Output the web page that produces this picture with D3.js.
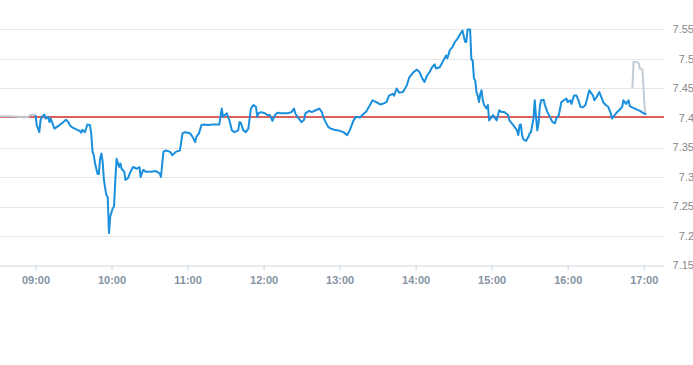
<!DOCTYPE html>
<html>
<head>
<meta charset="utf-8">
<script src="https://cdn.jsdelivr.net/npm/d3@7"></script>
<style>
  html, body { margin: 0; padding: 0; background: #fff; }
  svg { display: block; font-family: "Liberation Sans", Arial, sans-serif; }
  .grid line { stroke: #e6e6e6; stroke-width: 1; }
  .xAxis path, .xAxis line { stroke: #ccd6e0; }
  .xAxis text { fill: #8592a0; font-size: 11px; font-weight: bold; }
  .yLabel { fill: #888; font-size: 11px; }
</style>
</head>
<body>
<svg id="intraday" width="693" height="365"></svg>
<script>
// pre-market (grey), session (blue), late auction (grey)
const preTimes = ['08:32', '08:39', '08:47', '08:51', '08:54', '08:56', '08:59', '09:00'];
const prePrices = [7.403, 7.403, 7.402, 7.401, 7.402, 7.405, 7.406, 7.405];

const times = [
  '09:00', '09:01', '09:03', '09:04', '09:05', '09:07', '09:08', '09:10', '09:11', '09:12',
  '09:14', '09:15', '09:17', '09:19', '09:22', '09:24', '09:26', '09:27', '09:29', '09:33',
  '09:35', '09:36', '09:37', '09:39', '09:41', '09:43', '09:44', '09:45', '09:46', '09:47',
  '09:49', '09:50', '09:51', '09:52', '09:53', '09:54', '09:55', '09:56', '09:57', '09:58',
  '09:59', '10:01', '10:02', '10:03', '10:04', '10:06', '10:07', '10:08', '10:10', '10:11',
  '10:13', '10:15', '10:17', '10:20', '10:22', '10:23', '10:25', '10:27', '10:31', '10:35',
  '10:38', '10:39', '10:41', '10:43', '10:46', '10:48', '10:51', '10:54', '10:56', '10:58',
  '11:02', '11:04', '11:06', '11:07', '11:09', '11:11', '11:13', '11:16', '11:20', '11:24',
  '11:25', '11:27', '11:28', '11:31', '11:33', '11:35', '11:37', '11:40', '11:41', '11:42',
  '11:44', '11:46', '11:48', '11:50', '11:52', '11:54', '11:55', '11:56', '11:58', '12:01',
  '12:03', '12:05', '12:07', '12:09', '12:11', '12:14', '12:17', '12:19', '12:22', '12:24',
  '12:25', '12:27', '12:30', '12:32', '12:33', '12:36', '12:38', '12:42', '12:44', '12:46',
  '12:47', '12:49', '12:51', '12:53', '12:56', '12:59', '13:03', '13:06', '13:08', '13:11',
  '13:13', '13:16', '13:18', '13:21', '13:24', '13:26', '13:29', '13:32', '13:34', '13:37',
  '13:39', '13:42', '13:43', '13:45', '13:47', '13:50', '13:53', '13:55', '13:58', '14:01',
  '14:03', '14:05', '14:07', '14:09', '14:11', '14:13', '14:15', '14:16', '14:19', '14:22',
  '14:24', '14:25', '14:27', '14:29', '14:31', '14:33', '14:35', '14:37', '14:39', '14:40',
  '14:41', '14:43', '14:44', '14:45', '14:46', '14:47', '14:48', '14:49', '14:50', '14:51',
  '14:52', '14:53', '14:54', '14:56', '14:57', '14:58', '15:00', '15:01', '15:03', '15:04',
  '15:06', '15:08', '15:10', '15:13', '15:14', '15:17', '15:20', '15:21', '15:22', '15:23',
  '15:24', '15:25', '15:27', '15:29', '15:30', '15:31', '15:33', '15:34', '15:35', '15:36',
  '15:37', '15:38', '15:39', '15:41', '15:42', '15:44', '15:46', '15:48', '15:50', '15:51',
  '15:53', '15:54', '15:55', '15:57', '15:59', '16:00', '16:02', '16:03', '16:05', '16:07',
  '16:09', '16:10', '16:12', '16:14', '16:16', '16:17', '16:20', '16:21', '16:23', '16:25',
  '16:27', '16:28', '16:30', '16:32', '16:34', '16:35', '16:37', '16:39', '16:41', '16:43',
  '16:44', '16:46', '16:48', '16:49', '16:53', '16:57', '17:00', '17:02'
];
const prices = [
  7.405, 7.388, 7.376, 7.396, 7.402, 7.406, 7.399, 7.402, 7.393, 7.399,
  7.388, 7.382, 7.385, 7.388, 7.393, 7.397, 7.393, 7.388, 7.384, 7.380,
  7.378, 7.375, 7.380, 7.376, 7.389, 7.388, 7.374, 7.343, 7.337, 7.323,
  7.305, 7.305, 7.331, 7.340, 7.326, 7.295, 7.281, 7.269, 7.266, 7.205,
  7.233, 7.247, 7.250, 7.295, 7.331, 7.317, 7.323, 7.314, 7.309, 7.295,
  7.298, 7.309, 7.317, 7.314, 7.317, 7.300, 7.312, 7.309, 7.309, 7.310,
  7.306, 7.300, 7.343, 7.345, 7.343, 7.337, 7.343, 7.345, 7.374, 7.376,
  7.374, 7.368, 7.359, 7.368, 7.374, 7.388, 7.389, 7.388, 7.389, 7.389,
  7.389, 7.416, 7.402, 7.408, 7.396, 7.379, 7.376, 7.379, 7.393, 7.392,
  7.379, 7.376, 7.382, 7.416, 7.422, 7.419, 7.402, 7.408, 7.410, 7.408,
  7.405, 7.405, 7.395, 7.405, 7.409, 7.408, 7.408, 7.408, 7.410, 7.416,
  7.408, 7.401, 7.393, 7.397, 7.408, 7.412, 7.410, 7.414, 7.416, 7.410,
  7.402, 7.393, 7.385, 7.382, 7.380, 7.379, 7.376, 7.371, 7.379, 7.396,
  7.402, 7.401, 7.405, 7.411, 7.422, 7.430, 7.427, 7.423, 7.424, 7.427,
  7.438, 7.441, 7.438, 7.450, 7.443, 7.444, 7.455, 7.469, 7.477, 7.482,
  7.478, 7.468, 7.461, 7.472, 7.478, 7.486, 7.491, 7.484, 7.486, 7.498,
  7.506, 7.501, 7.515, 7.520, 7.529, 7.534, 7.542, 7.548, 7.529, 7.529,
  7.550, 7.550, 7.499, 7.498, 7.467, 7.464, 7.444, 7.438, 7.427, 7.441,
  7.447, 7.430, 7.422, 7.416, 7.422, 7.396, 7.402, 7.405, 7.399, 7.396,
  7.413, 7.410, 7.410, 7.405, 7.396, 7.388, 7.379, 7.371, 7.388, 7.389,
  7.371, 7.364, 7.361, 7.368, 7.374, 7.376, 7.399, 7.430, 7.402, 7.379,
  7.391, 7.419, 7.430, 7.431, 7.422, 7.410, 7.402, 7.393, 7.391, 7.399,
  7.405, 7.416, 7.427, 7.430, 7.433, 7.427, 7.430, 7.424, 7.438, 7.438,
  7.427, 7.419, 7.418, 7.422, 7.438, 7.447, 7.438, 7.430, 7.436, 7.444,
  7.433, 7.427, 7.422, 7.419, 7.408, 7.399, 7.405, 7.410, 7.414, 7.419,
  7.430, 7.424, 7.430, 7.420, 7.416, 7.412, 7.408, 7.406
];

const postTimes = ['16:51', '16:52', '16:54', '16:56', '16:57', '16:59', '17:01'];
const postPrices = [7.450, 7.495, 7.495, 7.493, 7.484, 7.482, 7.408];

const prevClose = 7.401;
const yTicks = [7.15, 7.2, 7.25, 7.3, 7.35, 7.4, 7.45, 7.5, 7.55];
const xTicks = ['09:00', '10:00', '11:00', '12:00', '13:00', '14:00', '15:00', '16:00', '17:00'];

const width = 664;
const height = 265.5;

const parse = d3.timeParse('%H:%M');
const svg = d3.select('#intraday');

const xScale = d3.scaleTime()
  .domain([parse('08:32'), parse('17:16')])
  .range([0, width]);
const yScale = d3.scaleLinear()
  .domain([7.15, 7.6])
  .range([height, 0]);

// horizontal grid (7.4 sits under the prev close line)
svg.append('g')
  .attr('class', 'grid')
  .selectAll('line')
  .data(yTicks.filter(d => d !== 7.15 && d !== 7.4))
  .join('line')
  .attr('x1', 0)
  .attr('x2', width)
  .attr('y1', d => Math.round(yScale(d)) + 0.5)
  .attr('y2', d => Math.round(yScale(d)) + 0.5);

svg.append('g')
  .selectAll('text')
  .data(yTicks)
  .join('text')
  .attr('class', 'yLabel')
  .attr('x', 694)
  .attr('y', d => yScale(d))
  .attr('dy', '0.35em')
  .attr('text-anchor', 'end')
  .text(d => d3.format('')(d));

const xAxis = d3.axisBottom(xScale)
  .tickValues(xTicks.map(parse))
  .tickFormat(d3.timeFormat('%H:%M'))
  .tickSize(5)
  .tickPadding(6);

const ax = svg.append('g')
  .attr('class', 'xAxis')
  .attr('transform', `translate(0,${Math.round(height) - 0.5})`)
  .call(xAxis);
ax.select('.domain').attr('d', `M0,0.5H${width}`);

const line = d3.line()
  .x(d => xScale(d.t))
  .y(d => yScale(d.v));

const toPoints = (ts, vs) => ts.map((t, i) => ({ t: parse(t), v: vs[i] }));

svg.append('line')
  .attr('x1', 0)
  .attr('x2', width)
  .attr('y1', Math.round(yScale(prevClose)))
  .attr('y2', Math.round(yScale(prevClose)))
  .attr('stroke', '#cf2d27')
  .attr('stroke-width', 1.3);

svg.append('path')
  .datum(toPoints(preTimes, prePrices))
  .attr('fill', 'none')
  .attr('stroke', '#c3ccd4')
  .attr('stroke-width', 2)
  .attr('d', line);

svg.append('path')
  .datum(toPoints(postTimes, postPrices))
  .attr('fill', 'none')
  .attr('stroke', '#c3ccd4')
  .attr('stroke-width', 2)
  .attr('d', line);

svg.append('path')
  .datum(toPoints(times, prices))
  .attr('fill', 'none')
  .attr('stroke', '#1a8fdd')
  .attr('stroke-width', 2)
  .attr('stroke-linejoin', 'round')
  .attr('d', line);
</script>
</body>
</html>
